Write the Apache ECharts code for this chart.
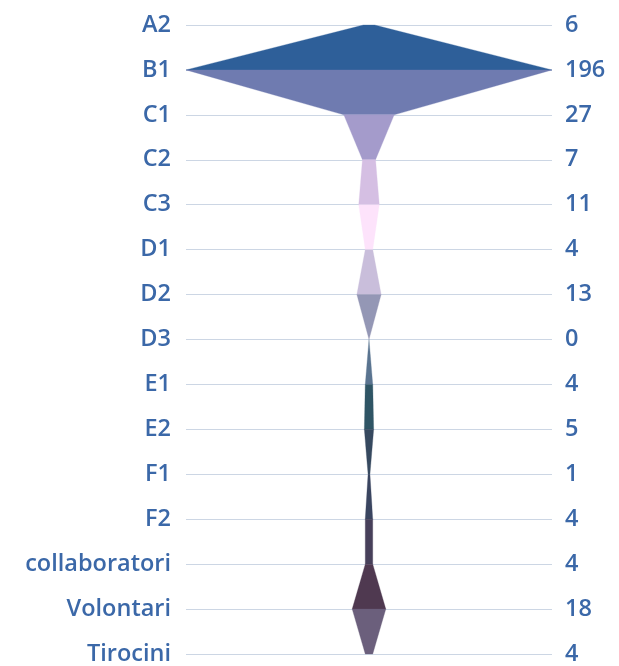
<!DOCTYPE html>
<html><head><meta charset="utf-8">
<script src="https://cdn.jsdelivr.net/npm/echarts@6/dist/echarts.min.js"></script>
<style>html,body{margin:0;padding:0;background:#fff}#c{width:619px;height:666px}</style>
</head><body><div id="c"></div>
<script>
var categories = ['A2','B1','C1','C2','C3','D1','D2','D3','E1','E2','F1','F2','collaboratori','Volontari','Tirocini'];
var values = [6,196,27,7,11,4,13,0,4,5,1,4,4,18,4];
var segmentColors = ['#2e5f99','#6f7bb0','#a49bcb','#d5bfe3','#fde3fb','#c9bedb','#9497b5','#5a7490','#2f5565','#36495f','#3a4560','#47405a','#4f3950','#6b5f7c'];

var segData = [];
for (var i = 0; i < values.length - 1; i++) segData.push([i, values[i], values[i+1]]);

var labelStyle = {color:'#3b68a8', fontSize:23.5, fontFamily:'Open Sans, sans-serif', fontWeight:600, padding:[4,0,0,0]};
var chart = echarts.init(document.getElementById('c'));
chart.setOption({
  animation:false,
  grid:{left:186, right:67, top:25, bottom:8},
  xAxis:{type:'value', min:-196, max:196, show:false},
  yAxis:[{
    type:'category', data:categories, inverse:true, boundaryGap:false,
    axisLine:{show:false}, axisTick:{show:false},
    axisLabel:Object.assign({margin:15}, labelStyle),
    splitLine:{show:true, lineStyle:{color:'#ccd6e4', width:1}}
  },{
    type:'category', data:values.map(String), inverse:true, boundaryGap:false, position:'right',
    axisLine:{show:false}, axisTick:{show:false},
    axisLabel:Object.assign({margin:13}, labelStyle),
    splitLine:{show:false}
  }],
  series:[{
    type:'custom',
    data:segData,
    renderItem:function(params, api){
      var i = api.value(0), a = api.value(1), b = api.value(2);
      var pts = [api.coord([-a, i]), api.coord([a, i]), api.coord([b, i+1]), api.coord([-b, i+1])];
      var col = segmentColors[params.dataIndex];
      return {type:'polygon', shape:{points:pts}, style:{fill:col, stroke:col, lineWidth:0.3}};
    }
  }]
});
</script></body></html>
